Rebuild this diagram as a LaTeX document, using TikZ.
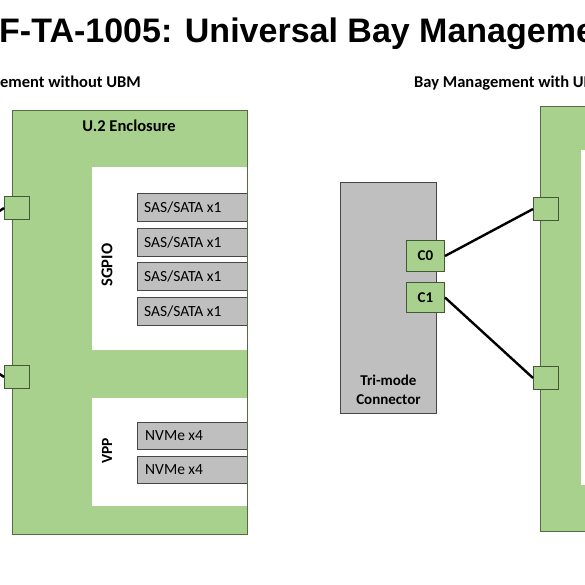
\documentclass[tikz,border=0pt]{standalone}
\usepackage{fontspec}
\setmainfont{Carlito}
\newfontfamily\titlefont{Liberation Sans}

\definecolor{ubmgreen}{RGB}{169,209,142}
\definecolor{edgegreen}{RGB}{84,110,66}
\definecolor{boxgray}{RGB}{191,191,191}
\definecolor{edgegray}{RGB}{70,70,70}

\tikzset{
  encl/.style={fill=ubmgreen, draw=edgegreen, line width=1pt},
  slot/.style={fill=boxgray, draw=edgegray, line width=0.9pt, anchor=north west,
    inner sep=0pt, minimum width=110pt, minimum height=28pt},
  port/.style={fill=ubmgreen, draw=edgegreen!80!black, line width=1pt, anchor=north west,
    inner sep=0pt, minimum width=25pt, minimum height=23pt},
  wire/.style={black, line width=2.4pt},
  slottext/.style={anchor=west, inner sep=0pt, font=\fontsize{15.5}{17}\selectfont}
}

\begin{document}
\begin{tikzpicture}[x=1pt,y=-1pt]
  \useasboundingbox (0,0) rectangle (585,585);
  \clip (0,0) rectangle (585,585);

  % Titulo
  \node[anchor=base west, inner sep=0pt, font=\titlefont\bfseries\fontsize{34}{40}\selectfont]
    (title) at (-1,43) {F-TA-1005: Universal Bay Management};
  \node[anchor=base east, inner sep=0pt, font=\bfseries\fontsize{16.5}{18}\selectfont]
    (subleft) at (141,88) {Bay Management without UBM};
  \node[anchor=base west, inner sep=0pt, font=\bfseries\fontsize{16.5}{18}\selectfont]
    (subright) at (414,88) {Bay Management with UBM};

  % Caja U.2 (sin UBM)
  \draw[encl] (12,111) rectangle (247,534);
  \node[font=\bfseries\fontsize{16.5}{18}\selectfont] (encltitle) at (129,126) {U.2 Enclosure};
  \fill[white] (92,167) rectangle (246.5,350);
  \fill[white] (92,398) rectangle (246.5,506);
  \node[rotate=90, font=\bfseries\fontsize{16.5}{18}\selectfont] (sgpio) at (107,265) {SGPIO};
  \node[rotate=90, font=\bfseries\fontsize{15.5}{17}\selectfont] (vpp) at (107,451) {VPP};

  % Ranuras SAS/SATA
  \foreach \y [count=\i] in {193,228,262,297}{
    \node[slot] (sas\i) at (137,\y) {};
    \node[slottext] at ([xshift=7pt]sas\i.west) {SAS/SATA x1};
  }
  % Ranuras NVMe
  \foreach \y [count=\i] in {422,456}{
    \node[slot, minimum height=27pt] (nvme\i) at (137,\y) {};
    \node[slottext] at ([xshift=8pt]nvme\i.west) {NVMe x4};
  }
  \draw[edgegreen, line width=1pt] (247,111) -- (247,534);

  % Puertos izquierda
  \node[port] (lp1) at (4,196) {};
  \node[port] (lp2) at (4,365) {};
  \coordinate (lw1) at (-8,216);
  \coordinate (lw2) at (-8,369);
  \draw[wire] (lw1) -- (lp1.west);
  \draw[wire] (lw2) -- (lp2.west);

  % Conector tri-mode
  \node[fill=boxgray, draw=edgegray, line width=0.9pt, anchor=north west, inner sep=0pt,
    minimum width=96pt, minimum height=231pt] (tri) at (340,182) {};
  \node[anchor=south, align=center, font=\bfseries\fontsize{15}{19}\selectfont]
    (trilabel) at ([yshift=6pt]tri.south) {Tri-mode\\Connector};
  \node[port, minimum width=38pt, minimum height=31pt, font=\bfseries\fontsize{15}{16}\selectfont]
    (c0) at (406,240) {C0};
  \node[port, minimum width=38pt, minimum height=30pt, font=\bfseries\fontsize{15}{16}\selectfont]
    (c1) at (406,282) {C1};

  % Caja con UBM
  \draw[encl] (540,107) rectangle (600,531);
  \fill[white] (581,150) rectangle (600,485);
  \node[port] (rp1) at (533,197) {};
  \node[port] (rp2) at (533,366) {};

  % Cables
  \draw[wire] (c0.east) -- (rp1.west);
  \draw[wire] (c1.east) -- (rp2.west);
\end{tikzpicture}
\end{document}
